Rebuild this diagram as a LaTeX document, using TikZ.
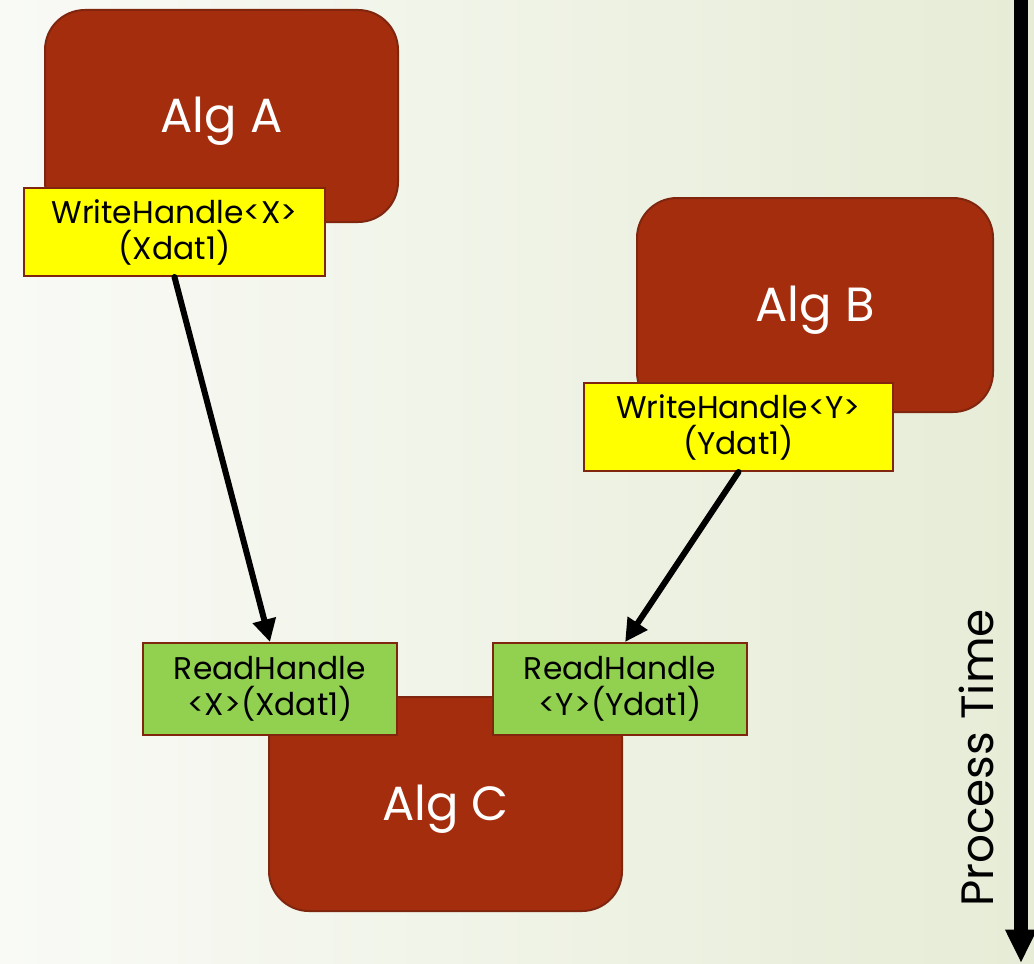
\documentclass[tikz,border=0pt]{standalone}
\usepackage{fontspec}
\setmainfont{Poppins}
\usetikzlibrary{arrows.meta,calc}
\definecolor{brick}{RGB}{164,45,14}
\definecolor{brickedge}{RGB}{128,38,14}
\definecolor{hyellow}{RGB}{255,255,0}
\definecolor{hgreen}{RGB}{146,208,80}
\definecolor{bgL}{RGB}{249,250,246}
\definecolor{bgR}{RGB}{230,236,214}
\begin{document}
\begin{tikzpicture}[x=0.75pt,y=-0.75pt,
  alg/.style={draw=brickedge, line width=1.5pt, fill=brick, rounded corners=30pt,
    text=white, font=\fontsize{36}{40}\selectfont, text height=25pt, text depth=0pt, inner sep=0pt},
  handle/.style={draw=brickedge, line width=1.5pt, inner sep=0pt, align=center,
    font=\fontsize{23.5}{27}\selectfont},
  flow/.style={line width=4.5pt, line cap=round, -{Triangle[length=17pt,width=17pt]}},
  timearrow/.style={line width=10.5pt, -{Triangle[length=25pt,width=22pt]}}]
\useasboundingbox (0,0) rectangle (1034,963);
\shade[left color=bgL, right color=bgR] (0,0) rectangle (1034,963);

\node[alg, minimum width=264.75pt, minimum height=159pt] (algA) at (221.5,116) {Alg A};
\node[alg, minimum width=267pt, minimum height=160.5pt] (algB) at (815,305) {Alg B};
\node[alg, minimum width=264.75pt, minimum height=160.5pt] (algC) at (445.5,804) {Alg C};

\node[handle, fill=hyellow, minimum width=225.75pt, minimum height=66pt] (wx) at (174.5,232) {WriteHandle<X>\\(Xdat1)};
\node[handle, fill=hyellow, minimum width=231.75pt, minimum height=66pt] (wy) at (738.5,427) {WriteHandle<Y>\\(Ydat1)};
\node[handle, fill=hgreen, minimum width=190.5pt, minimum height=69pt] (rx) at (270,689) {ReadHandle\\<X>(Xdat1)};
\node[handle, fill=hgreen, minimum width=190.5pt, minimum height=69pt] (ry) at (620,689) {ReadHandle\\<Y>(Ydat1)};

\draw[flow] (wx.south) -- (rx.north);
\draw[flow] (wy.south) -- ($(ry.north west)!0.52!(ry.north east)$);

\coordinate (ttop) at (1021,-10);
\coordinate (tbot) at (1021,963);
\draw[timearrow] (ttop) -- (tbot);
\node[rotate=90, anchor=base, font=\fontsize{34}{40}\selectfont, inner sep=0pt] (ptime) at (993,758) {Process Time};
\end{tikzpicture}
\end{document}
